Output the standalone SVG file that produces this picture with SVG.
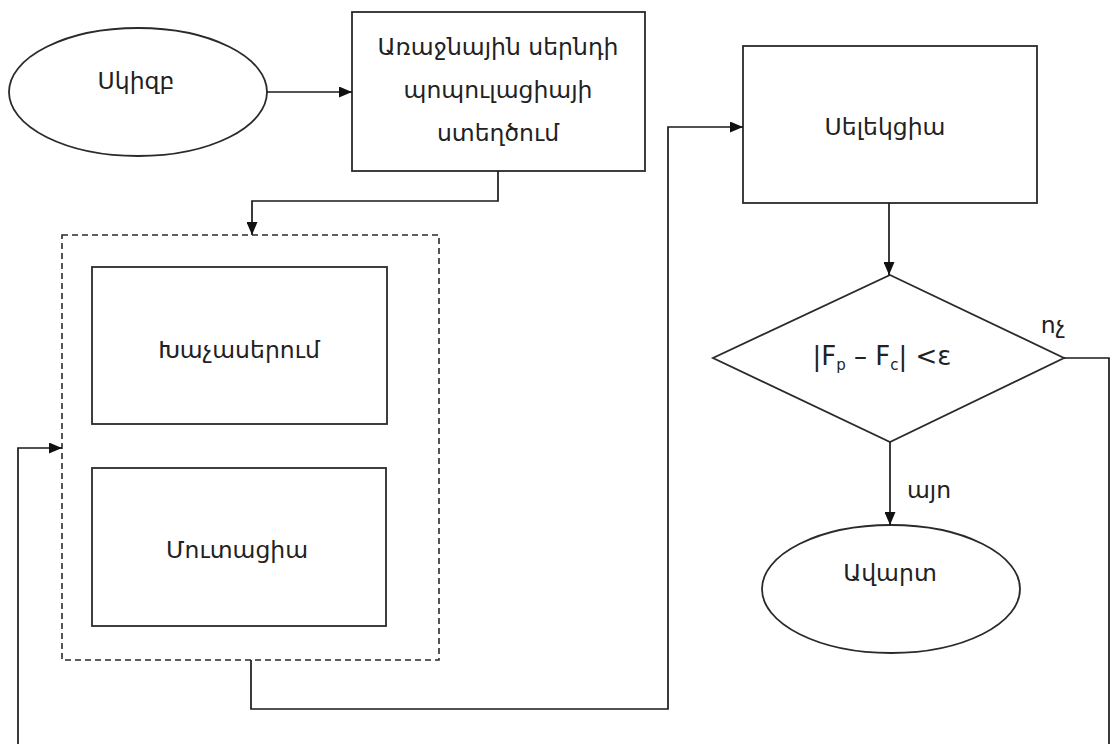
<svg xmlns="http://www.w3.org/2000/svg" width="1112" height="744" viewBox="0 0 1112 744">
<defs>
<marker id="arr" viewBox="0 0 13 11" refX="13" refY="5.5" markerWidth="13" markerHeight="11" markerUnits="userSpaceOnUse" orient="auto">
<path d="M0,0 L13,5.5 L0,11 Z" fill="#111"/>
</marker>
<style>
.s{fill:#fff;stroke:#2a2a2a;stroke-width:1.8}
.d{fill:none;stroke:#2a2a2a;stroke-width:1.6;stroke-dasharray:6 4}
.c{fill:none;stroke:#1a1a1a;stroke-width:1.7}
.t{font-family:"DejaVu Sans",sans-serif;font-size:23.5px;fill:#222;text-anchor:middle}
</style>
</defs>
<rect width="1112" height="744" fill="#fff"/>
<g id="group-box">
<rect class="d" x="62" y="235" width="377" height="425"/>
</g>
<g id="start">
<ellipse class="s" cx="138" cy="92" rx="129" ry="64"/>
<text class="t" x="136" y="89">Սկիզբ</text>
</g>
<g id="init">
<rect class="s" x="352" y="12" width="293" height="159"/>
<text class="t" x="498" y="55">Առաջնային սերնդի</text>
<text class="t" x="498" y="98">պոպուլացիայի</text>
<text class="t" x="498" y="141">ստեղծում</text>
</g>
<g id="crossover">
<rect class="s" x="92" y="267" width="295" height="157"/>
<text class="t" x="239" y="358">Խաչասերում</text>
</g>
<g id="mutation">
<rect class="s" x="92" y="468" width="294" height="158"/>
<text class="t" x="237" y="558">Մուտացիա</text>
</g>
<g id="selection">
<rect class="s" x="743" y="46" width="294" height="157"/>
<text class="t" x="885" y="135">Սելեկցիա</text>
</g>
<g id="decision">
<polygon class="s" points="890,275 1064,358 890,442 713,358"/>
<text class="t" x="882" y="365" style="font-size:26px">|F<tspan font-size="15" dy="5">p</tspan><tspan dy="-5"> – F</tspan><tspan font-size="15" dy="5">c</tspan><tspan dy="-5">| &lt;ε</tspan></text>
</g>
<g id="end">
<ellipse class="s" cx="891" cy="589" rx="129" ry="64"/>
<text class="t" x="890" y="581">Ավարտ</text>
</g>
<g id="connectors">
<path class="c" d="M267,92 H352" marker-end="url(#arr)"/>
<path class="c" d="M498,171 V201 H252 V235" marker-end="url(#arr)"/>
<path class="c" d="M251,660 V709 H668 V127 H743" marker-end="url(#arr)"/>
<path class="c" d="M889,203 V275" marker-end="url(#arr)"/>
<path class="c" d="M890,442 V525" marker-end="url(#arr)"/>
<path class="c" d="M1064,358 H1109 V770 H18 V448 H62" marker-end="url(#arr)"/>
<text class="t" x="929" y="498">այո</text>
<text class="t" x="1053" y="333">ոչ</text>
</g>
</svg>
